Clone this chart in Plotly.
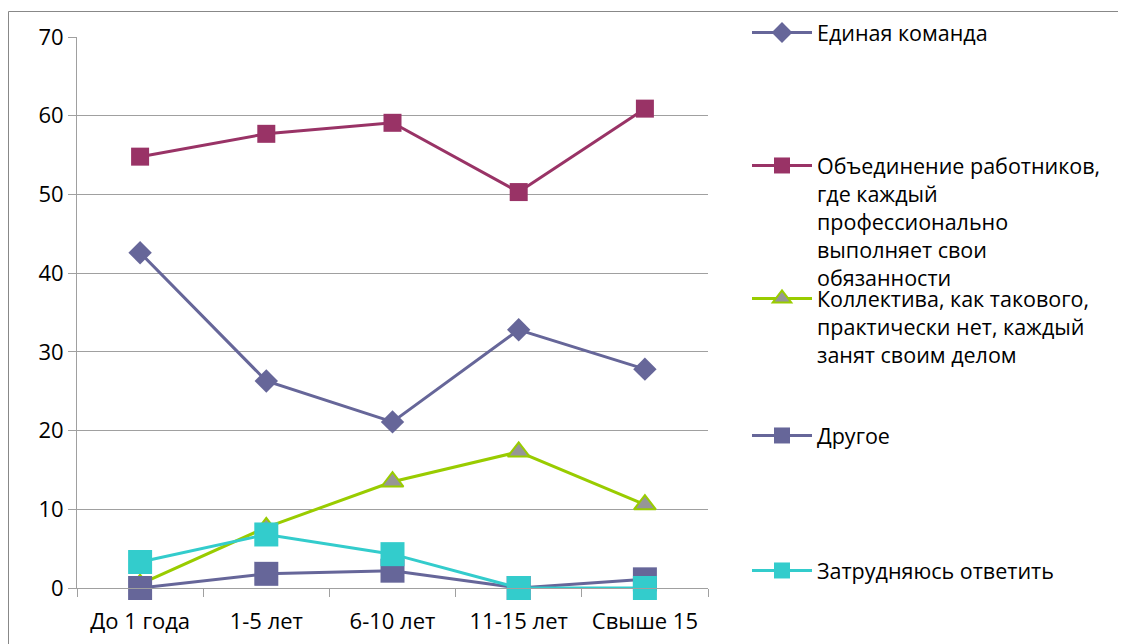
import plotly.graph_objects as go

categories = ["До 1 года", "1-5 лет", "6-10 лет", "11-15 лет", "Свыше 15"]
edinaya = [42.6, 26.3, 21.1, 32.8, 27.8]
obyedinenie = [54.8, 57.7, 59.1, 50.3, 60.9]
kollektiv = [0.5, 7.7, 13.5, 17.3, 10.6]
drugoe = [0, 1.8, 2.2, 0, 1.1]
zatrud = [3.3, 6.8, 4.3, 0, 0]

names = [
    "Единая команда",
    "Объединение работников,<br>где каждый<br>профессионально<br>выполняет свои<br>обязанности",
    "Коллектива, как такового,<br>практически нет, каждый<br>занят своим делом",
    "Другое",
    "Затрудняюсь ответить",
]

FONT = "Open Sans"
FS = 22
LFS = 21.5
fig = go.Figure()

fig.add_trace(go.Scatter(x=categories, y=edinaya, name=names[0], mode="lines+markers",
                         line=dict(color="#666699", width=3),
                         marker=dict(symbol="diamond", size=18, color="#666699"),
                         cliponaxis=False, legend="legend", showlegend=True))
fig.add_trace(go.Scatter(x=categories, y=obyedinenie, name=names[1], mode="lines+markers",
                         line=dict(color="#993366", width=3),
                         marker=dict(symbol="square", size=18, color="#993366"),
                         cliponaxis=False, legend="legend2", showlegend=True))
fig.add_trace(go.Scatter(x=categories, y=kollektiv, name=names[2], mode="lines+markers",
                         line=dict(color="#99CC00", width=3),
                         marker=dict(symbol="triangle-up", size=19, color="#969696",
                                     line=dict(color="#99CC00", width=2)),
                         cliponaxis=False, legend="legend3", showlegend=True))
fig.add_trace(go.Scatter(x=categories, y=drugoe, name=names[3], mode="lines+markers",
                         line=dict(color="#666699", width=3),
                         marker=dict(symbol="square", size=24, color="#666699"),
                         cliponaxis=False, legend="legend4", showlegend=True))
fig.add_trace(go.Scatter(x=categories, y=zatrud, name=names[4], mode="lines+markers",
                         line=dict(color="#33CCCC", width=3),
                         marker=dict(symbol="square", size=24, color="#33CCCC"),
                         cliponaxis=False, legend="legend5", showlegend=True))

# figure is placed at an 8px offset inside the page (default body margin)
W, H = 1118, 636
L, R, T, B = 69, 418, 29, 56
PW = W - L - R
PH = H - T - B

def px_x(px):
    return (px - L) / PW

def px_y(py):
    return (H - B - py) / PH

def cx(px):
    return px / W

def cy(py):
    return 1 - py / H

leg_common = dict(x=cx(739), xanchor="left", yanchor="top", valign="top",
                  xref="container", yref="container",
                  font=dict(family=FONT, size=LFS, color="#000000"),
                  bgcolor="rgba(0,0,0,0)", borderwidth=0, itemwidth=60)
legend_tops = [4, 137, 270, 407, 542]

fig.update_layout(
    width=W, height=H,
    margin=dict(l=L, r=R, t=T, b=B, pad=0, autoexpand=False),
    paper_bgcolor="white", plot_bgcolor="white",
    showlegend=True,
    font=dict(family=FONT, size=FS, color="#000000"),
    legend=dict(leg_common, y=cy(legend_tops[0])),
    legend2=dict(leg_common, y=cy(legend_tops[1])),
    legend3=dict(leg_common, y=cy(legend_tops[2])),
    legend4=dict(leg_common, y=cy(legend_tops[3])),
    legend5=dict(leg_common, y=cy(legend_tops[4])),
    xaxis=dict(type="category", range=[-0.5, len(categories) - 0.5],
               tickson="boundaries", ticks="outside", ticklen=8,
               tickcolor="#A0A0A0", showline=True, linecolor="#A0A0A0", linewidth=1,
               showgrid=False, ticklabelstandoff=14,
               tickfont=dict(family=FONT, size=FS, color="#000000")),
    yaxis=dict(range=[0, 70], dtick=10, ticks="outside", ticklen=8, tickcolor="#A0A0A0",
               showline=True, linecolor="#A0A0A0", linewidth=1, showgrid=True,
               gridcolor="#A0A0A0", gridwidth=1, zeroline=False,
               tickfont=dict(family=FONT, size=FS, color="#000000")),
    shapes=[dict(type="rect", xref="paper", yref="paper",
                 x0=px_x(0.5), x1=px_x(1300), y0=px_y(800), y1=px_y(3.5),
                 line=dict(color="#888888", width=1), fillcolor="rgba(0,0,0,0)",
                 layer="below")],
)

fig.write_html("out.html")
